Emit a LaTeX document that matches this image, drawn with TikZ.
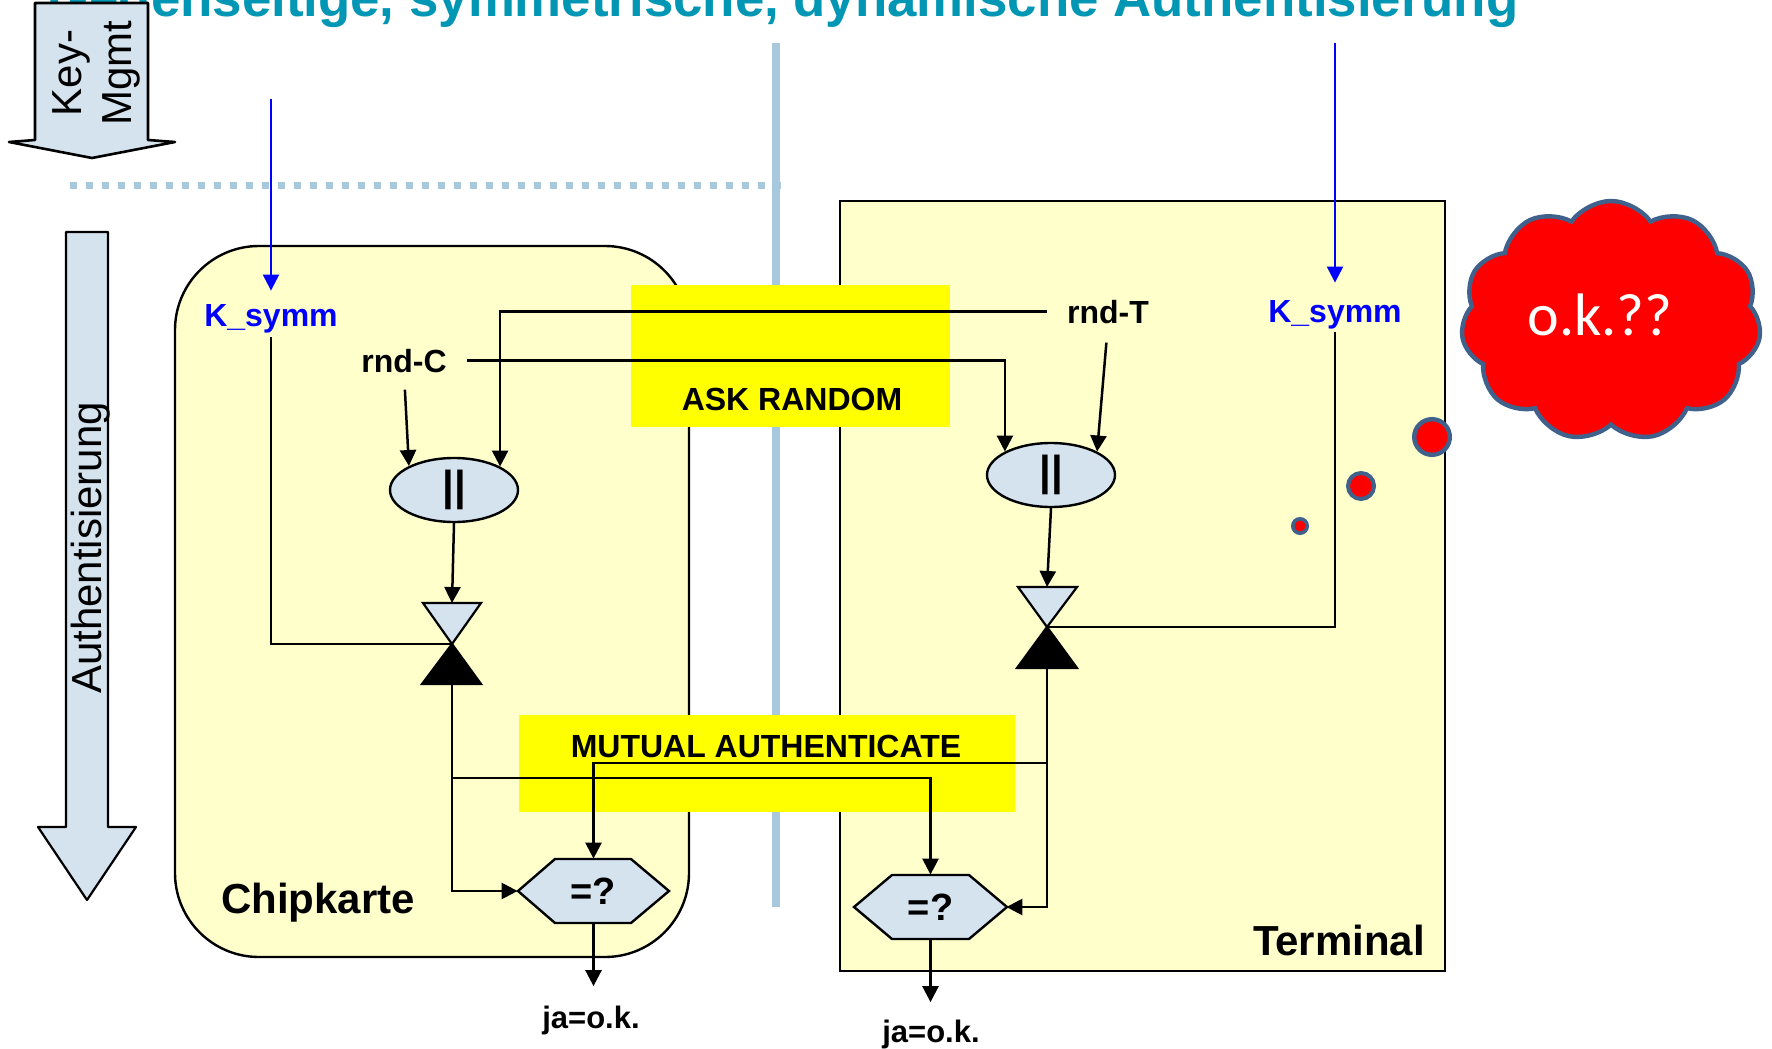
\documentclass[tikz,border=0pt]{standalone}
\usepackage{fontspec}
\setmainfont{Liberation Sans}
\newfontfamily\cloudfont{Carlito}
\usetikzlibrary{shapes.geometric,shapes.symbols,arrows.meta,calc}
\definecolor{lblue}{HTML}{D5E3EF}
\definecolor{paleyellow}{HTML}{FFFFCC}
\definecolor{hiyellow}{HTML}{FFFF00}
\definecolor{sepblue}{HTML}{A8C8DD}
\definecolor{titleteal}{HTML}{0096B4}
\definecolor{cloudedge}{HTML}{3F618C}
\definecolor{kblue}{HTML}{0000FF}
\begin{document}
\begin{tikzpicture}[x=0.5pt,y=-0.5pt,
  conn/.style={draw=black,line width=1.25pt},
  arr/.style={conn,-{Triangle[length=8pt,width=8pt]}},
  barr/.style={draw=kblue,line width=1.1pt,-{Triangle[length=8pt,width=8pt]}},
  lbl/.style={font=\fontsize{16}{19}\selectfont\bfseries,inner sep=0pt,anchor=base},
  big/.style={font=\fontsize{21}{25}\selectfont\bfseries,inner sep=0pt,anchor=base},
  ja/.style={font=\fontsize{15.5}{18}\selectfont\bfseries,inner sep=0pt,anchor=base},
  opnode/.style={ellipse,draw=black,fill=lblue,line width=1.2pt,minimum width=64pt,minimum height=32pt,inner sep=0pt,font=\fontsize{21}{24}\selectfont\bfseries},
  hexnode/.style={minimum width=75.5pt,minimum height=32pt,inner sep=0pt,font=\fontsize{19}{23}\selectfont\bfseries},
  hexshape/.style={fill=lblue,draw=black,line width=1.2pt},
  boxstyle/.style={fill=paleyellow,draw=black,line width=1.2pt},
  cmdbox/.style={fill=hiyellow,inner sep=0pt},
  bubble/.style={circle,fill=red,draw=cloudedge,inner sep=0pt},
  bigarrow/.style={fill=lblue,draw=black,line width=1.1pt,line join=round}
]
\useasboundingbox (0,0) rectangle (1772,1049);
\clip (0,0) rectangle (1772,1049);

% title (cut off at the top, as in the original)
\node[anchor=base west,inner sep=0pt,text=titleteal,font=\fontsize{26.4}{30}\selectfont\bfseries] (title) at (48,17) {Gegenseitige, symmetrische, dynamische Authentisierung};

% Key-Mgmt arrow
\path[bigarrow,line width=1.3pt] (35,3) -- (148,3) -- (148,140) -- (175,142) -- (92,158) -- (9,142) -- (35,140) -- cycle;
\node[rotate=90,align=center,font=\fontsize{21}{25}\selectfont,inner sep=0pt] (keymgmt) at (96,73) {Key-\\Mgmt};

% dotted separator
\draw[sepblue,line width=3.5pt,dash pattern=on 3.5pt off 4.5pt] (70,185) -- (786,185);

% Authentisierung arrow
\path[bigarrow] (66,232) -- (108,232) -- (108,827) -- (136,827) -- (87,900) -- (38,827) -- (66,827) -- cycle;
\node[rotate=90,font=\fontsize{21}{25}\selectfont,inner sep=0pt] (auth) at (91,548) {Authentisierung};

% containers
\path[boxstyle,rounded corners=42pt] (175,246) rectangle (689,957);
\path[boxstyle] (840,201) rectangle (1445,971);

% vertical separator
\draw[sepblue,line width=3.8pt] (776,43) -- (776,907);

% command boxes
\node[cmdbox,minimum width=159.5pt,minimum height=71pt] (askbox) at (790.5,356) {};
\node[cmdbox,minimum width=248pt,minimum height=48.5pt] (mutbox) at (767,763.5) {};
\node[lbl] (askT) at (792,410) {ASK RANDOM};
\node[lbl] (mutT) at (766,757) {MUTUAL AUTHENTICATE};

% cloud and thought bubbles
\node[cloud,cloud puffs=11,cloud puff arc=110,aspect=1.27,fill=red,draw=cloudedge,line width=2.2pt,minimum width=150pt,minimum height=120pt,inner sep=0pt] (cloud) at (1611,321) {};
\node[text=white,font=\cloudfont\fontsize{30}{36}\selectfont,anchor=base,inner sep=0pt] (ok) at (1600,335) {o.k.??};
\node[bubble,line width=2.2pt,minimum size=17.8pt] (b1) at (1432,437) {};
\node[bubble,line width=2pt,minimum size=13pt] (b2) at (1361,486) {};
\node[bubble,line width=1.8pt,minimum size=7.2pt] (b3) at (1300,526) {};

% labels
\node[lbl,text=kblue] (ksL) at (271,326) {K\_symm};
\node[lbl,text=kblue] (ksR) at (1335,322) {K\_symm};
\node[lbl] (rndC) at (404,372) {rnd-C};
\node[lbl] (rndT) at (1108,323) {rnd-T};
\node[big] (chipT) at (318,913) {Chipkarte};
\node[big] (termT) at (1339,955) {Terminal};
\node[ja] (jaL) at (591,1028) {ja=o.k.};
\node[ja] (jaR) at (931,1042) {ja=o.k.};

% concatenation ellipses
\node[opnode] (ellL) at (454,490) {||};
\node[opnode] (ellR) at (1051,475) {||};

% encryption hourglasses
\coordinate (apxL) at (452,644);
\coordinate (topL) at (452,603);
\coordinate (botL) at (452,684);
\path[fill=lblue,draw=black,line width=1.1pt] (423,603) -- (481,603) -- (apxL) -- cycle;
\path[fill=black,draw=black,line width=1.1pt] (apxL) -- (481,684) -- (422,684) -- cycle;
\coordinate (apxR) at (1047,627);
\coordinate (topR) at (1047,587);
\coordinate (botR) at (1047,668);
\path[fill=lblue,draw=black,line width=1.1pt] (1018,587) -- (1077,587) -- (apxR) -- cycle;
\path[fill=black,draw=black,line width=1.1pt] (apxR) -- (1077,668) -- (1017,668) -- cycle;

% comparison hexagons
\path[hexshape] (518,891) -- (555,859) -- (631,859) -- (669,891) -- (631,923) -- (555,923) -- cycle;
\node[hexnode] (hexL) at (593.5,891) {=?};
\path[hexshape] (854,907) -- (892,875) -- (969,875) -- (1007,907) -- (969,939) -- (892,939) -- cycle;
\node[hexnode] (hexR) at (930.5,907) {=?};

% helper coordinates
\coordinate (kLsrc) at (271,99);
\coordinate (kRsrc) at (1335,43);
\coordinate (jL) at (452,778);
\coordinate (jR) at (1047,763);

% connectors
\draw[barr,shorten >=6.5pt] (kLsrc) -- (ksL.north);
\draw[barr,shorten >=8.5pt] (kRsrc) -- (ksR.north);
\draw[conn,shorten <=2pt] (ksL.south) |- (apxL);
\draw[conn,shorten <=1.5pt] (ksR.south) |- (apxR);
\draw[arr,shorten <=8.5pt] (rndC.south) -- (ellL.152);
\draw[arr,shorten <=10pt] (rndC.east) -| (ellR.153);
\draw[arr,shorten <=10pt] (rndT.west) -| (ellL.27);
\draw[arr,shorten <=9.5pt] (rndT.south) -- (ellR.27);
\draw[arr] (ellL.south) -- (topL);
\draw[arr] (ellR.south) -- (topR);
\draw[arr] (botL) |- (hexL.west);
\draw[arr] (jL) -| (hexR.north);
\draw[arr] (botR) |- (hexR.east);
\draw[arr] (jR) -| (hexL.north);
\draw[arr,shorten >=9.5pt] (hexL.south) -- (hexL.south |- jaL.north);
\draw[arr,shorten >=8.5pt] (hexR.south) -- (hexR.south |- jaR.north);
\end{tikzpicture}
\end{document}
